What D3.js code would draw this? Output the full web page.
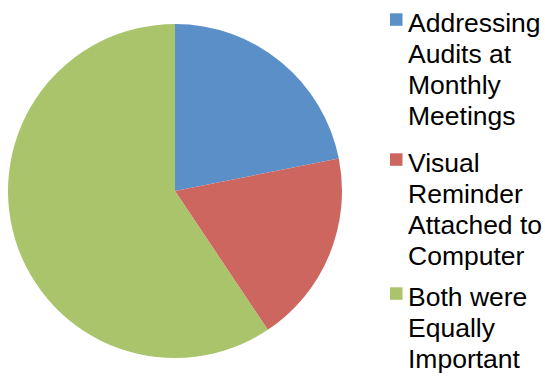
<!DOCTYPE html>
<html>
<head>
<meta charset="utf-8">
<script src="https://cdn.jsdelivr.net/npm/d3@7"></script>
<style>
  html, body { margin: 0; padding: 0; background: #fff; }
  svg { display: block; }
  text { font-family: Arial, "Liberation Sans", sans-serif; fill: #000; }
</style>
</head>
<body>
<script>
// Survey responses: which reminder helped most
const categories = [
  "Addressing\nAudits at\nMonthly\nMeetings",
  "Visual\nReminder\nAttached to\nComputer",
  "Both were\nEqually\nImportant"
];
const values = [7, 6, 19];
const colors = ["#5B8FC8", "#CD665F", "#A9C46B"];

const width = 545, height = 381;
const cx = 175, cy = 191, radius = 167;

const svg = d3.select("body").append("svg")
  .attr("width", width)
  .attr("height", height);

const pie = d3.pie().sort(null).value(d => d)(values);
const arc = d3.arc().innerRadius(0).outerRadius(radius);

svg.append("g")
  .attr("transform", `translate(${cx},${cy})`)
  .selectAll("path")
  .data(pie)
  .join("path")
  .attr("d", arc)
  .attr("fill", (d, i) => colors[i]);

// Legend: first-line baseline of each entry, wrapped lines below it
const fontSize = 26.5, lineH = 31;
const entryBaselines = [32, 172, 306];
const legend = svg.append("g");
categories.forEach((label, i) => {
  const y = entryBaselines[i];
  const lines = label.split("\n");
  legend.append("rect")
    .attr("x", 390).attr("y", y - 18.7)
    .attr("width", 12.5).attr("height", 12.5)
    .attr("fill", colors[i]);
  const t = legend.append("text")
    .attr("x", 408).attr("y", y)
    .attr("font-size", fontSize);
  lines.forEach((ln, j) => {
    t.append("tspan").attr("x", 408).attr("y", y + j * lineH).text(ln);
  });
});
</script>
</body>
</html>
